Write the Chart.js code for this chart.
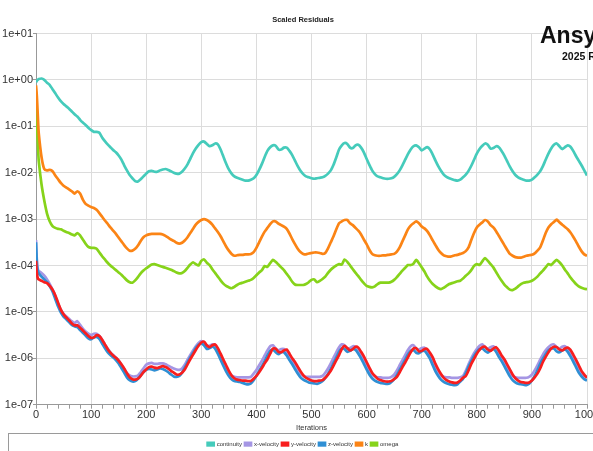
<!DOCTYPE html>
<html>
<head>
<meta charset="utf-8">
<script src="https://cdn.jsdelivr.net/npm/chart.js@4.4.1/dist/chart.umd.min.js"></script>
<style>
  html, body { margin: 0; padding: 0; background: #ffffff; overflow: hidden; width: 593px; height: 451px; }
  #wrap { position: relative; width: 606px; height: 462px; }
</style>
</head>
<body>
<div id="wrap"><canvas id="residuals" width="606" height="462"></canvas></div>
<script>
// Iteration numbers at which residuals were sampled
const iterations = [0,1,2,3,4,5,10,15,20,25,30,35,40,45,50,55,60,65,70,75,80,85,90,95,
  100,105,110,115,120,125,130,135,140,145,150,155,160,165,170,175,180,185,190,195,
  200,205,210,215,220,225,230,235,240,245,250,255,260,265,270,275,280,285,290,295,
  300,305,310,315,320,325,330,335,340,345,350,355,360,365,370,375,380,385,390,395,
  400,405,410,415,420,425,430,435,440,445,450,455,460,465,470,475,480,485,490,495,
  500,505,510,515,520,525,530,535,540,545,550,555,560,565,570,575,580,585,590,595,
  600,605,610,615,620,625,630,635,640,645,650,655,660,665,670,675,680,685,690,695,
  700,705,710,715,720,725,730,735,740,745,750,755,760,765,770,775,780,785,790,795,
  800,805,810,815,820,825,830,835,840,845,850,855,860,865,870,875,880,885,890,895,
  900,905,910,915,920,925,930,935,940,945,950,955,960,965,970,975,980,985,990,995,
  1000];

// Scaled residuals, stored as base-10 exponents
const continuityLog = [-0.05,-0.03,-0.01,0.00,0.01,0.02,
  0.03,0.00,-0.06,-0.11,-0.20,-0.29,-0.38,-0.46,-0.52,-0.57,-0.62,-0.68,-0.74,-0.79,-0.86,-0.92,-0.97,-1.03,
  -1.08,-1.12,-1.12,-1.14,-1.24,-1.32,-1.39,-1.45,-1.51,-1.56,-1.63,-1.72,-1.84,-1.95,-2.05,-2.12,-2.18,-2.19,-2.14,-2.08,
  -2.02,-1.97,-1.96,-1.98,-1.98,-1.95,-1.93,-1.92,-1.94,-1.97,-2.00,-2.02,-2.02,-1.98,-1.91,-1.82,-1.70,-1.58,-1.48,-1.40,
  -1.34,-1.33,-1.38,-1.43,-1.41,-1.37,-1.39,-1.50,-1.65,-1.80,-1.93,-2.02,-2.08,-2.11,-2.13,-2.15,-2.17,-2.17,-2.15,-2.12,
  -2.05,-1.94,-1.81,-1.66,-1.53,-1.45,-1.41,-1.42,-1.50,-1.50,-1.46,-1.46,-1.53,-1.62,-1.74,-1.86,-1.96,-2.03,-2.08,-2.10,
  -2.12,-2.13,-2.12,-2.11,-2.10,-2.07,-2.02,-1.95,-1.83,-1.67,-1.50,-1.41,-1.36,-1.38,-1.46,-1.47,-1.41,-1.40,-1.46,-1.56,
  -1.70,-1.83,-1.95,-2.03,-2.08,-2.10,-2.12,-2.13,-2.13,-2.12,-2.09,-2.03,-1.95,-1.84,-1.72,-1.60,-1.50,-1.43,-1.41,-1.45,
  -1.52,-1.48,-1.45,-1.50,-1.61,-1.74,-1.86,-1.96,-2.04,-2.09,-2.12,-2.14,-2.16,-2.17,-2.15,-2.10,-2.04,-1.96,-1.85,-1.72,
  -1.59,-1.49,-1.42,-1.37,-1.40,-1.48,-1.47,-1.43,-1.45,-1.53,-1.63,-1.75,-1.87,-1.97,-2.05,-2.10,-2.13,-2.15,-2.17,-2.17,
  -2.15,-2.10,-2.04,-1.97,-1.86,-1.72,-1.59,-1.48,-1.40,-1.37,-1.43,-1.49,-1.45,-1.41,-1.44,-1.53,-1.64,-1.74,-1.84,-1.95,
  -2.06];

const xVelocityLog = [-3.45,-3.75,-3.98,-4.06,-4.10,-4.12,
  -4.16,-4.22,-4.30,-4.40,-4.52,-4.66,-4.82,-4.95,-5.04,-5.10,-5.15,-5.20,-5.24,-5.20,-5.28,-5.36,-5.42,-5.47,
  -5.50,-5.47,-5.47,-5.52,-5.60,-5.70,-5.79,-5.87,-5.93,-5.98,-6.05,-6.14,-6.23,-6.32,-6.37,-6.39,-6.39,-6.37,-6.30,-6.22,
  -6.14,-6.11,-6.10,-6.12,-6.12,-6.11,-6.11,-6.13,-6.16,-6.19,-6.22,-6.24,-6.25,-6.22,-6.14,-6.03,-5.93,-5.83,-5.74,-5.67,
  -5.63,-5.66,-5.73,-5.73,-5.70,-5.72,-5.82,-5.95,-6.08,-6.20,-6.30,-6.37,-6.40,-6.41,-6.41,-6.41,-6.41,-6.41,-6.40,-6.33,
  -6.25,-6.15,-6.05,-5.94,-5.83,-5.74,-5.72,-5.79,-5.83,-5.80,-5.80,-5.87,-5.96,-6.06,-6.16,-6.26,-6.33,-6.38,-6.40,-6.40,
  -6.40,-6.40,-6.40,-6.40,-6.38,-6.31,-6.22,-6.11,-5.99,-5.87,-5.76,-5.70,-5.72,-5.79,-5.78,-5.74,-5.76,-5.83,-5.93,-6.04,
  -6.16,-6.27,-6.35,-6.39,-6.41,-6.41,-6.42,-6.42,-6.42,-6.40,-6.35,-6.26,-6.15,-6.04,-5.93,-5.82,-5.74,-5.72,-5.79,-5.81,
  -5.78,-5.77,-5.84,-5.94,-6.07,-6.20,-6.30,-6.37,-6.40,-6.41,-6.41,-6.42,-6.42,-6.42,-6.41,-6.38,-6.27,-6.13,-6.00,-5.89,
  -5.80,-5.73,-5.70,-5.76,-5.80,-5.76,-5.74,-5.80,-5.90,-6.00,-6.10,-6.21,-6.31,-6.38,-6.41,-6.42,-6.42,-6.42,-6.42,-6.40,
  -6.35,-6.26,-6.15,-6.03,-5.92,-5.83,-5.76,-5.71,-5.70,-5.76,-5.79,-5.75,-5.74,-5.80,-5.89,-6.00,-6.12,-6.24,-6.32,-6.38,
  -6.41];

const yVelocityLog = [-3.90,-4.10,-4.20,-4.26,-4.29,-4.30,
  -4.33,-4.36,-4.38,-4.44,-4.52,-4.64,-4.80,-4.95,-5.05,-5.12,-5.18,-5.25,-5.29,-5.29,-5.34,-5.40,-5.46,-5.52,
  -5.56,-5.55,-5.50,-5.52,-5.60,-5.70,-5.80,-5.88,-5.94,-5.99,-6.05,-6.13,-6.22,-6.32,-6.41,-6.45,-6.46,-6.44,-6.38,-6.30,
  -6.24,-6.19,-6.18,-6.20,-6.21,-6.19,-6.17,-6.19,-6.22,-6.27,-6.31,-6.35,-6.35,-6.31,-6.24,-6.13,-6.02,-5.92,-5.82,-5.73,
  -5.66,-5.64,-5.72,-5.76,-5.72,-5.70,-5.78,-5.90,-6.03,-6.15,-6.27,-6.37,-6.43,-6.46,-6.47,-6.48,-6.48,-6.49,-6.49,-6.44,
  -6.38,-6.30,-6.21,-6.11,-6.02,-5.90,-5.79,-5.79,-5.86,-5.87,-5.83,-5.81,-5.90,-6.00,-6.08,-6.18,-6.28,-6.36,-6.42,-6.45,
  -6.48,-6.49,-6.49,-6.48,-6.47,-6.42,-6.35,-6.27,-6.16,-6.04,-5.93,-5.80,-5.73,-5.78,-5.83,-5.80,-5.75,-5.77,-5.86,-5.96,
  -6.08,-6.20,-6.31,-6.38,-6.44,-6.47,-6.49,-6.50,-6.50,-6.49,-6.45,-6.40,-6.30,-6.19,-6.09,-5.98,-5.87,-5.79,-5.78,-5.85,
  -5.84,-5.80,-5.80,-5.88,-5.98,-6.12,-6.24,-6.34,-6.42,-6.47,-6.50,-6.52,-6.53,-6.52,-6.48,-6.42,-6.38,-6.26,-6.12,-6.01,
  -5.90,-5.82,-5.76,-5.75,-5.81,-5.84,-5.79,-5.76,-5.83,-5.94,-6.02,-6.13,-6.24,-6.35,-6.43,-6.48,-6.51,-6.52,-6.53,-6.52,
  -6.48,-6.41,-6.33,-6.22,-6.08,-5.97,-5.87,-5.79,-5.75,-5.76,-5.81,-5.83,-5.79,-5.77,-5.82,-5.92,-6.03,-6.15,-6.27,-6.35,
  -6.42];

const zVelocityLog = [-3.50,-3.80,-4.02,-4.10,-4.14,-4.17,
  -4.24,-4.30,-4.36,-4.45,-4.56,-4.72,-4.88,-5.01,-5.10,-5.16,-5.22,-5.28,-5.31,-5.33,-5.39,-5.45,-5.51,-5.57,
  -5.59,-5.55,-5.54,-5.58,-5.68,-5.78,-5.87,-5.93,-5.98,-6.04,-6.11,-6.21,-6.31,-6.41,-6.47,-6.50,-6.49,-6.44,-6.37,-6.30,
  -6.25,-6.23,-6.24,-6.26,-6.24,-6.22,-6.23,-6.26,-6.30,-6.35,-6.39,-6.40,-6.38,-6.31,-6.20,-6.09,-5.98,-5.88,-5.78,-5.71,
  -5.68,-5.72,-5.80,-5.78,-5.75,-5.79,-5.90,-6.03,-6.16,-6.28,-6.38,-6.45,-6.49,-6.50,-6.51,-6.53,-6.55,-6.56,-6.54,-6.47,
  -6.38,-6.27,-6.17,-6.06,-5.94,-5.84,-5.81,-5.87,-5.91,-5.87,-5.87,-5.94,-6.04,-6.13,-6.23,-6.33,-6.41,-6.46,-6.49,-6.52,
  -6.53,-6.54,-6.55,-6.53,-6.49,-6.42,-6.34,-6.23,-6.10,-5.98,-5.86,-5.78,-5.80,-5.86,-5.84,-5.80,-5.82,-5.90,-6.00,-6.12,
  -6.24,-6.35,-6.43,-6.48,-6.51,-6.53,-6.54,-6.55,-6.55,-6.51,-6.45,-6.36,-6.25,-6.14,-6.03,-5.92,-5.84,-5.82,-5.88,-5.89,
  -5.85,-5.84,-5.91,-6.01,-6.15,-6.28,-6.38,-6.46,-6.51,-6.54,-6.56,-6.57,-6.58,-6.56,-6.50,-6.44,-6.32,-6.18,-6.06,-5.95,
  -5.86,-5.80,-5.79,-5.84,-5.88,-5.83,-5.80,-5.86,-5.97,-6.06,-6.17,-6.28,-6.39,-6.47,-6.52,-6.55,-6.56,-6.57,-6.58,-6.55,
  -6.48,-6.38,-6.26,-6.12,-6.01,-5.91,-5.83,-5.79,-5.79,-5.85,-5.87,-5.83,-5.81,-5.86,-5.96,-6.07,-6.19,-6.31,-6.39,-6.45,
  -6.48];

const kLog = [-0.12,-0.25,-0.45,-0.70,-0.95,-1.15,
  -1.66,-1.92,-1.95,-1.94,-1.97,-2.06,-2.14,-2.22,-2.28,-2.32,-2.36,-2.40,-2.45,-2.40,-2.45,-2.58,-2.67,-2.71,
  -2.74,-2.76,-2.80,-2.87,-2.95,-3.03,-3.10,-3.18,-3.25,-3.32,-3.40,-3.48,-3.56,-3.63,-3.68,-3.68,-3.64,-3.57,-3.47,-3.39,
  -3.35,-3.33,-3.32,-3.32,-3.32,-3.32,-3.33,-3.36,-3.40,-3.44,-3.47,-3.51,-3.53,-3.51,-3.46,-3.39,-3.30,-3.21,-3.12,-3.06,
  -3.02,-3.00,-3.02,-3.06,-3.12,-3.20,-3.28,-3.37,-3.48,-3.59,-3.68,-3.75,-3.79,-3.78,-3.77,-3.77,-3.76,-3.76,-3.75,-3.71,
  -3.62,-3.50,-3.38,-3.27,-3.19,-3.11,-3.05,-3.05,-3.10,-3.13,-3.16,-3.21,-3.31,-3.43,-3.54,-3.64,-3.71,-3.75,-3.76,-3.74,
  -3.73,-3.72,-3.72,-3.73,-3.75,-3.73,-3.63,-3.50,-3.37,-3.22,-3.09,-3.05,-3.02,-3.02,-3.09,-3.13,-3.19,-3.25,-3.33,-3.44,
  -3.54,-3.66,-3.75,-3.78,-3.79,-3.79,-3.78,-3.78,-3.77,-3.76,-3.75,-3.70,-3.61,-3.48,-3.35,-3.22,-3.14,-3.09,-3.05,-3.09,
  -3.16,-3.20,-3.26,-3.35,-3.46,-3.56,-3.66,-3.73,-3.78,-3.80,-3.81,-3.80,-3.78,-3.77,-3.75,-3.73,-3.69,-3.61,-3.45,-3.30,
  -3.18,-3.12,-3.07,-3.02,-3.05,-3.13,-3.18,-3.26,-3.36,-3.46,-3.56,-3.66,-3.75,-3.79,-3.82,-3.83,-3.83,-3.81,-3.79,-3.78,
  -3.77,-3.74,-3.68,-3.61,-3.46,-3.30,-3.18,-3.11,-3.06,-3.01,-3.07,-3.12,-3.17,-3.22,-3.29,-3.38,-3.48,-3.59,-3.69,-3.76,
  -3.79];

const omegaLog = [-0.30,-0.65,-1.00,-1.30,-1.55,-1.75,
  -2.25,-2.60,-2.88,-3.05,-3.15,-3.19,-3.21,-3.22,-3.25,-3.28,-3.30,-3.33,-3.35,-3.30,-3.35,-3.44,-3.53,-3.60,
  -3.62,-3.62,-3.64,-3.72,-3.80,-3.87,-3.94,-4.00,-4.05,-4.10,-4.15,-4.20,-4.26,-4.32,-4.36,-4.37,-4.32,-4.25,-4.17,-4.11,
  -4.06,-4.02,-3.98,-3.97,-3.99,-4.01,-4.03,-4.05,-4.07,-4.09,-4.12,-4.15,-4.17,-4.16,-4.12,-4.05,-3.98,-3.93,-3.97,-4.00,
  -3.90,-3.87,-3.94,-3.99,-4.08,-4.16,-4.24,-4.32,-4.39,-4.44,-4.47,-4.49,-4.46,-4.42,-4.39,-4.37,-4.35,-4.33,-4.31,-4.27,
  -4.21,-4.15,-4.10,-4.01,-4.03,-3.95,-3.88,-3.92,-3.98,-4.04,-4.10,-4.18,-4.26,-4.35,-4.41,-4.42,-4.42,-4.42,-4.40,-4.36,
  -4.31,-4.30,-4.36,-4.33,-4.29,-4.24,-4.16,-4.09,-4.04,-4.00,-3.97,-3.98,-3.87,-3.92,-4.00,-4.08,-4.16,-4.23,-4.31,-4.38,
  -4.44,-4.46,-4.47,-4.45,-4.40,-4.37,-4.37,-4.37,-4.37,-4.35,-4.31,-4.25,-4.18,-4.11,-4.05,-3.99,-3.99,-3.96,-3.88,-3.95,
  -4.04,-4.13,-4.24,-4.33,-4.40,-4.45,-4.49,-4.51,-4.48,-4.44,-4.40,-4.38,-4.36,-4.34,-4.33,-4.28,-4.22,-4.17,-4.10,-4.01,
  -3.97,-3.99,-3.91,-3.84,-3.90,-3.97,-4.04,-4.14,-4.24,-4.33,-4.41,-4.47,-4.52,-4.53,-4.50,-4.45,-4.40,-4.37,-4.36,-4.35,
  -4.33,-4.29,-4.24,-4.17,-4.11,-4.04,-3.97,-3.99,-3.93,-3.88,-3.93,-4.00,-4.09,-4.17,-4.26,-4.33,-4.40,-4.45,-4.48,-4.50,
  -4.51];

// Decade tick values for the residual axis
const yTickValues = [1e1, 1e0, 1e-1, 1e-2, 1e-3, 1e-4, 1e-5, 1e-6, 1e-7];

const seriesNames = ['continuity', 'x-velocity', 'y-velocity', 'z-velocity', 'k', 'omega'];
const seriesLogs = [continuityLog, xVelocityLog, yVelocityLog, zVelocityLog, kLog, omegaLog];
const seriesColors = ['#45cbbb', '#a596e4', '#f81e1e', '#2f8fd4', '#fb8415', '#86d31a'];
const seriesOrder = [0, 3, 1, 2, 0, 0];

const narrow = "'Liberation Sans Narrow', 'Arial Narrow', 'Liberation Sans', Arial, sans-serif";

function formatExp(v) {
  const e = Math.round(Math.log10(v));
  const sign = e < 0 ? '-' : '+';
  return '1e' + sign + String(Math.abs(e)).padStart(2, '0');
}

const datasets = seriesNames.map((name, s) => ({
  label: name,
  data: iterations.map((it, i) => ({ x: it, y: Math.pow(10, seriesLogs[s][i]) })),
  borderColor: seriesColors[s],
  backgroundColor: seriesColors[s],
  borderWidth: 2.7,
  pointRadius: 0,
  tension: 0.2,
  fill: false,
  order: seriesOrder[s]
}));

// Frame around the legend and the product badge in the top-right corner
const decorations = {
  id: 'decorations',
  afterDraw(chart) {
    const ctx = chart.ctx;
    ctx.save();
    ctx.strokeStyle = '#9a9a9a';
    ctx.lineWidth = 1;
    ctx.strokeRect(8.5, 433.5, chart.width - 17, 40);
    ctx.fillStyle = '#111111';
    ctx.textBaseline = 'alphabetic';
    ctx.textAlign = 'left';
    ctx.font = "bold 23px " + narrow;
    ctx.fillText('Ansys', 540, 42.5);
    ctx.font = "bold 10.5px " + narrow;
    ctx.fillText('2025 R1', 562, 60);
    ctx.restore();
  }
};

new Chart(document.getElementById('residuals'), {
  type: 'line',
  data: { datasets },
  plugins: [decorations],
  options: {
    responsive: false,
    animation: false,
    layout: { padding: { left: 0, right: 0, top: 0, bottom: 4.9 } },
    plugins: {
      title: {
        display: true,
        text: 'Scaled Residuals',
        color: '#222222',
        font: { family: narrow, size: 7.5, weight: 'bold' },
        padding: { top: 15, bottom: 9.5 }
      },
      legend: {
        display: true,
        position: 'bottom',
        labels: {
          color: '#333333',
          font: { family: narrow, size: 6 },
          boxWidth: 6,
          boxHeight: 2.5,
          padding: 3,
          sort: (a, b) => a.datasetIndex - b.datasetIndex
        }
      },
      tooltip: { enabled: false }
    },
    scales: {
      x: {
        type: 'linear',
        min: 0,
        max: 1000,
        ticks: {
          stepSize: 20,
          autoSkip: false,
          maxRotation: 0,
          padding: 0,
          color: '#333333',
          font: { family: narrow, size: 11 },
          callback: v => (v % 100 === 0 ? String(v) : '')
        },
        grid: {
          color: c => (c.tick && c.tick.value % 100 === 0 ? '#dcdcdc' : 'rgba(0,0,0,0)'),
          tickColor: '#999999',
          tickLength: 4,
          lineWidth: 1
        },
        border: { display: true, color: '#999999', width: 1 },
        title: {
          display: true,
          text: 'Iterations',
          color: '#333333',
          font: { family: narrow, size: 7.5 },
          padding: { top: 1.8, bottom: 5.4 }
        }
      },
      y: {
        type: 'logarithmic',
        min: 1e-7,
        max: 1e1,
        afterBuildTicks: scale => { scale.ticks = yTickValues.map(v => ({ value: v })); },
        afterFit: scale => { scale.width = 36; },
        ticks: {
          padding: 0,
          color: '#333333',
          font: { family: narrow, size: 11 },
          callback: v => formatExp(v)
        },
        grid: { color: '#dcdcdc', tickColor: '#999999', tickLength: 3, lineWidth: 1 },
        border: { display: true, color: '#999999', width: 1 }
      },
      // empty margin on the right of the plot area
      yMargin: {
        type: 'linear',
        axis: 'y',
        position: 'right',
        display: true,
        grid: { display: false, drawTicks: false },
        border: { display: false },
        ticks: { display: false },
        afterFit: scale => { scale.width = 19; }
      }
    }
  }
});
</script>
</body>
</html>
